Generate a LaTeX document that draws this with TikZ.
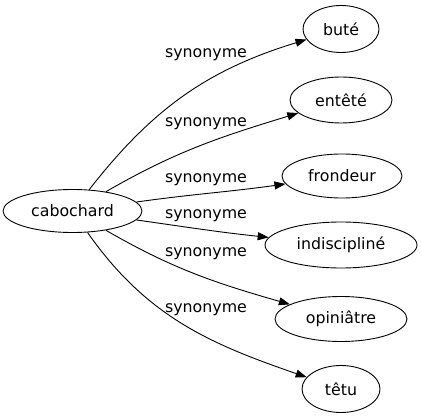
\documentclass[tikz,border=0pt]{standalone}
\usepackage{fontspec}
\setmainfont{DejaVu Sans}
\usepackage{tikz}
\usetikzlibrary{shapes.geometric,arrows.meta}

\begin{document}
\begin{tikzpicture}[x=1pt, y=-1pt, line width=0.9pt,
            word/.style={ellipse, draw=black, inner sep=0pt, font=\fontsize{15.8}{19}\selectfont},
            syn/.style={draw=black, -{Triangle[length=11pt, width=8pt]}},
            lbl/.style={anchor=base, inner sep=0pt, font=\fontsize{15.8}{19}\selectfont}]
            \useasboundingbox (0, 0) rectangle (422, 419);
            \node [word, minimum width=139pt, minimum height=43pt] (cabochard) at (72.5, 211) {cabochard};
            \node [word, minimum width=76pt, minimum height=47pt] (bute) at (341, 29) {buté};
            \node [word, minimum width=102pt, minimum height=46pt] (entete) at (341, 100) {entêté};
            \node [word, minimum width=120pt, minimum height=44pt] (frondeur) at (342, 176) {frondeur};
            \node [word, minimum width=152pt, minimum height=46pt] (indiscipline) at (341, 245) {indiscipliné};
            \node [word, minimum width=132pt, minimum height=45pt] (opiniatre) at (341, 319) {opiniâtre};
            \node [word, minimum width=78pt, minimum height=47pt] (tetu) at (341, 389) {têtu};
            \draw [syn] (cabochard) to [out=52, in=197] (bute);
            \draw [syn] (cabochard) to [out=30, in=197] (entete);
            \draw [syn] (cabochard) to [out=8, in=188] (frondeur);
            \draw [syn] (cabochard) to [out=-8, in=174] (indiscipline);
            \draw [syn] (cabochard) to [out=-30, in=164] (opiniatre);
            \draw [syn] (cabochard) to [out=-55, in=161] (tetu);
            \node [lbl] (s1) at (206, 58) {synonyme};
            \node [lbl] (s2) at (206, 127) {synonyme};
            \node [lbl] (s3) at (206, 183) {synonyme};
            \node [lbl] (s4) at (206, 219) {synonyme};
            \node [lbl] (s5) at (206, 256) {synonyme};
            \node [lbl] (s6) at (206, 312) {synonyme};
        \end{tikzpicture}
\end{document}
